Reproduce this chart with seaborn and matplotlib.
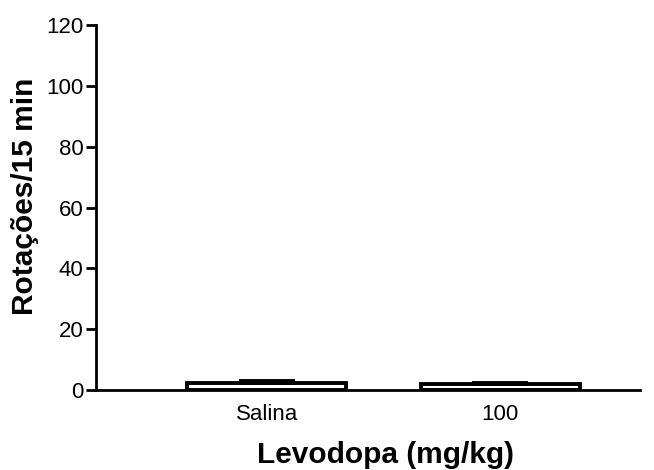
import matplotlib
matplotlib.use("Agg")
import matplotlib.pyplot as plt
import seaborn as sns
import pandas as pd
import numpy as np

categories = ["Salina", "100"]
means = [2.4, 2.0]
sems = [0.6, 0.3]
yticks = [0, 20, 40, 60, 80, 100, 120]

sns.set_theme(style="ticks")
plt.rcParams['font.family'] = ['Liberation Sans', 'DejaVu Sans']

df = pd.DataFrame({"grupo": categories, "valor": means})

fig = plt.figure(figsize=(6.54, 4.70), dpi=100)
ax = fig.add_axes([0.147, 0.170, 0.832, 0.777])

sns.barplot(data=df, x="grupo", y="valor", order=categories, color="white",
            edgecolor="black", linewidth=2.8, width=0.68, errorbar=None, ax=ax)
x = np.arange(len(categories))
ax.errorbar(x, means, yerr=[np.zeros(len(sems)), sems], fmt="none",
            ecolor="black", elinewidth=2.8, capsize=20, capthick=2.8)

ax.set_xlim(-0.73, 1.6)
ax.set_ylim(0, 120)
ax.set_yticks(yticks)
ax.set_yticklabels([str(t) for t in yticks])
ax.set_xlabel("Levodopa (mg/kg)", fontsize=21.5, fontweight="bold", color="black")
ax.set_ylabel("Rotações/15 min", fontsize=21.5, fontweight="bold", color="black")
ax.xaxis.set_label_coords(0.531, -0.200)
ax.xaxis.label.set_va("baseline")
ax.yaxis.set_label_coords(-0.1158, 0.530)
ax.yaxis.label.set_va("baseline")
ax.tick_params(axis="both", labelsize=16, width=2, length=7, color="black", labelcolor="black")
ax.tick_params(axis="y", pad=2)
ax.tick_params(axis="x", length=0, pad=10)
for s in ["left", "bottom"]:
    ax.spines[s].set_linewidth(2)
    ax.spines[s].set_color("black")
for s in ["top", "right"]:
    ax.spines[s].set_visible(False)

fig.savefig("out.png", dpi=100)
